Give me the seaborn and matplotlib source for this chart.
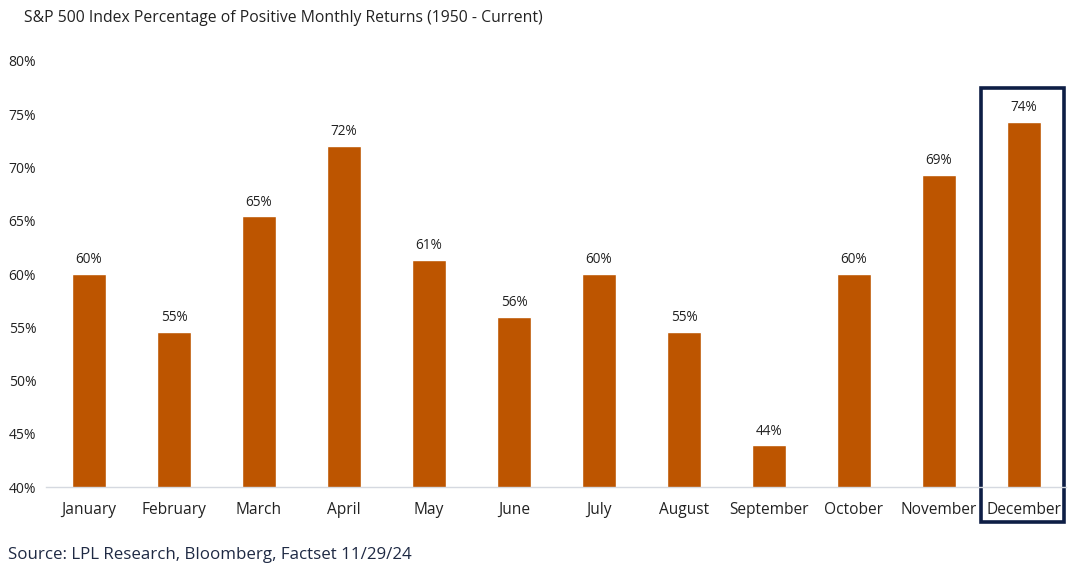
import matplotlib
matplotlib.use("Agg")
import matplotlib.pyplot as plt
import matplotlib.patches as patches
import matplotlib.transforms as mtransforms
import seaborn as sns
import pandas as pd

# Data
months = ["January", "February", "March", "April", "May", "June",
          "July", "August", "September", "October", "November", "December"]
pct_positive = [60.0, 54.6, 65.4, 72.0, 61.3, 56.0,
                60.0, 54.6, 43.9, 60.0, 69.3, 74.3]
labels = ["60%", "55%", "65%", "72%", "61%", "56%",
          "60%", "55%", "44%", "60%", "69%", "74%"]
y_ticks = [40, 45, 50, 55, 60, 65, 70, 75, 80]

df = pd.DataFrame({"Month": months, "Pct": pct_positive})

sns.set_style("white")
plt.rcParams['font.family'] = ['Open Sans', 'DejaVu Sans']

bar_color = "#BD5500"
box_color = "#0E1E45"
text_color = "#222222"

fig = plt.figure(figsize=(10.78, 5.69), dpi=100)
ax = fig.add_axes([0.0431, 0.1441, 0.9462, 0.7487])

sns.barplot(data=df, x="Month", y="Pct", color=bar_color, width=0.4,
            saturation=1, ax=ax)

ax.set_ylim(40, 80)
ax.set_yticks(y_ticks)
ax.set_yticklabels([f"{t}%" for t in y_ticks])
ax.set_xlabel("")
ax.set_ylabel("")

for s in ["top", "right", "left"]:
    ax.spines[s].set_visible(False)
ax.spines["bottom"].set_color("#D5D9E0")
ax.spines["bottom"].set_linewidth(1.0)
ax.tick_params(axis="x", length=0, colors=text_color, labelsize=11.2, pad=11)
ax.tick_params(axis="y", length=0, colors=text_color, labelsize=10, pad=0)
for lbl in ax.get_yticklabels():
    lbl.set_horizontalalignment("left")
    lbl.set_x(-0.037)

# value labels
for i, (v, lab) in enumerate(zip(pct_positive, labels)):
    ax.annotate(lab, (i, v), xytext=(0, 5), textcoords="offset points",
                ha="center", va="bottom", fontsize=9.8, color=text_color)

# highlight box around December
trans = mtransforms.blended_transform_factory(ax.transData, fig.transFigure)
dec = months.index("December")
box = patches.Rectangle((dec - 0.5, 0.0826), 0.97, 0.7627, transform=trans,
                        fill=False, edgecolor=box_color, linewidth=2.6,
                        clip_on=False)
ax.add_patch(box)

fig.text(0.022, 0.968, "S&P 500 Index Percentage of Positive Monthly Returns (1950 - Current)",
         fontsize=11.3, color=text_color, ha="left", va="center")
fig.text(0.007, 0.024, "Source: LPL Research, Bloomberg, Factset 11/29/24",
         fontsize=12.2, color="#1F2A44", ha="left", va="center")

fig.savefig("out.png", dpi=100)
